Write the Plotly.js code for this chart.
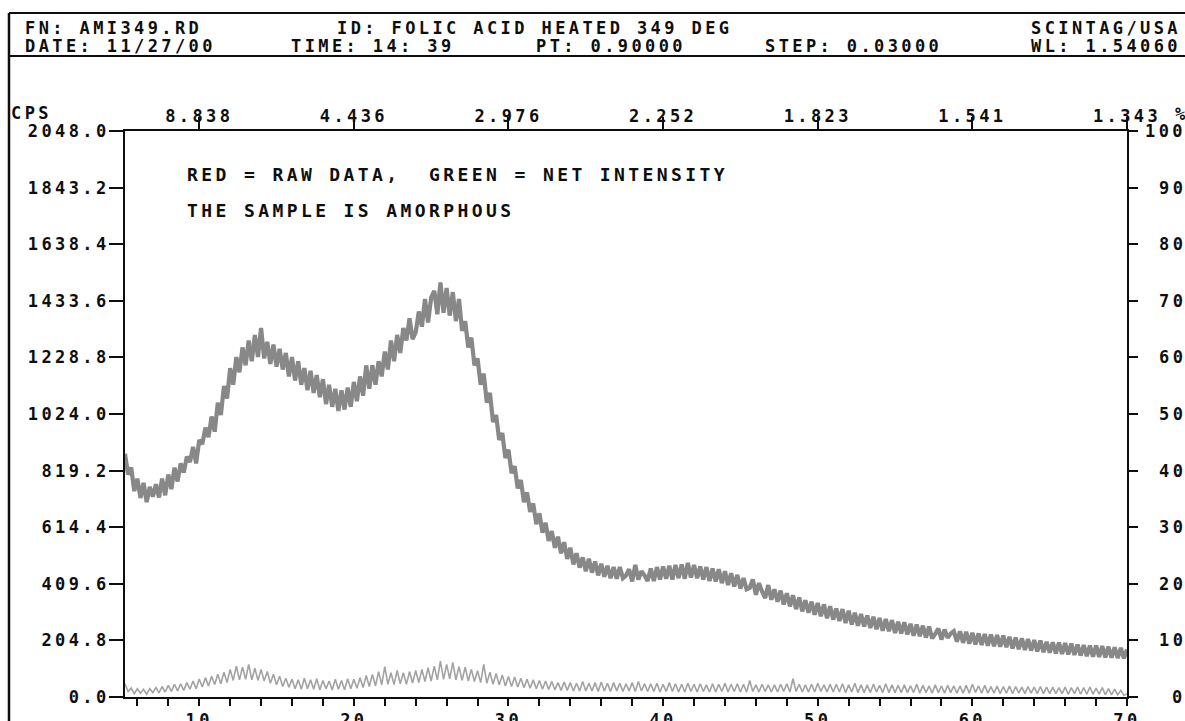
<!DOCTYPE html>
<html>
<head>
<meta charset="utf-8">
<script src="https://cdn.plot.ly/plotly-3.0.1.min.js"></script>
<style>
  html, body { margin: 0; padding: 0; background: #fff; }
  text { letter-spacing: 3.4px; }
</style>
</head>
<body>
<div id="chart" style="width:1185px;height:721px;"></div>
<script>
// ---- data ----
const startTwoTheta = 5.2;   // first 2-theta of the scan (deg)
const stepTwoTheta = 0.2;    // sampling used for the read-off values (deg)

// raw data (grey band), cps
const rawCps = [
  880, 805, 830, 745, 790, 720, 775, 705, 760, 725,
  770, 722, 790, 730, 805, 752, 830, 780, 845, 812,
  870, 850, 905, 845, 930, 915, 975, 940, 1015, 960,
  1065, 1020, 1125, 1080, 1190, 1130, 1230, 1175, 1265, 1200,
  1290, 1215, 1310, 1230, 1335, 1225, 1285, 1205, 1275, 1195,
  1260, 1185, 1245, 1160, 1230, 1145, 1215, 1130, 1190, 1110,
  1180, 1100, 1165, 1085, 1150, 1060, 1130, 1050, 1115, 1035,
  1110, 1040, 1120, 1050, 1140, 1070, 1160, 1090, 1200, 1115,
  1200, 1130, 1215, 1160, 1250, 1185, 1290, 1215, 1310, 1245,
  1335, 1290, 1370, 1295, 1320, 1395, 1340, 1440, 1355, 1445,
  1470, 1385, 1500, 1390, 1480, 1380, 1465, 1360, 1440, 1325,
  1360, 1265, 1300, 1200, 1225, 1130, 1170, 1065, 1100, 995,
  1020, 930, 955, 865, 895, 810, 835, 755, 785, 705,
  740, 670, 700, 625, 665, 595, 630, 565, 600, 540,
  580, 520, 560, 500, 540, 480, 520, 468, 505, 455,
  500, 450, 490, 440, 482, 435, 475, 430, 470, 428,
  470, 430, 440, 462, 418, 478, 425, 455, 440, 420,
  465, 420, 470, 425, 472, 428, 475, 425, 478, 430,
  480, 428, 485, 432, 478, 430, 472, 425, 470, 420,
  465, 418, 462, 412, 455, 405, 448, 400, 442, 392,
  430, 390, 395, 425, 370, 412, 382, 358, 405, 352,
  390, 345, 385, 335, 375, 328, 368, 318, 360, 310,
  350, 305, 345, 298, 340, 292, 335, 285, 328, 280,
  320, 275, 318, 268, 312, 262, 305, 258, 300, 255,
  295, 250, 290, 245, 286, 240, 282, 238, 278, 232,
  272, 230, 270, 226, 265, 222, 262, 220, 258, 215,
  255, 212, 228, 248, 208, 244, 214, 230, 238, 200,
  238, 196, 236, 193, 232, 190, 230, 188, 228, 186,
  226, 184, 224, 182, 222, 180, 218, 176, 215, 173,
  212, 170, 210, 168, 206, 165, 204, 162, 200, 160,
  198, 158, 197, 156, 195, 154, 193, 152, 190, 150,
  188, 148, 186, 146, 186, 145, 184, 143, 182, 142,
  180, 141, 178, 140, 172
];

// net intensity (lower grey trace), cps
const netCps = [
  48, 20, 32, 12, 30, 14, 28, 10, 30, 16,
  34, 15, 38, 18, 42, 20, 46, 22, 48, 24,
  52, 28, 58, 30, 65, 36, 70, 40, 75, 45,
  82, 48, 90, 52, 100, 60, 112, 62, 108, 64,
  118, 62, 104, 60, 100, 58, 92, 50, 82, 44,
  75, 38, 68, 35, 64, 30, 62, 28, 68, 30,
  62, 28, 66, 26, 60, 30, 58, 25, 64, 28,
  60, 26, 66, 30, 64, 32, 70, 34, 78, 38,
  82, 40, 92, 44, 110, 46, 88, 45, 96, 48,
  88, 46, 92, 50, 96, 52, 100, 56, 106, 58,
  112, 62, 130, 64, 118, 66, 125, 62, 110, 60,
  108, 58, 100, 56, 95, 52, 118, 50, 90, 46,
  85, 44, 80, 40, 74, 38, 72, 36, 68, 34,
  64, 32, 62, 30, 60, 28, 58, 27, 56, 26,
  52, 24, 54, 24, 52, 22, 50, 22, 56, 22,
  50, 22, 52, 20, 54, 22, 50, 20, 52, 22,
  50, 20, 48, 22, 52, 20, 56, 22, 48, 20,
  48, 20, 50, 18, 46, 20, 52, 20, 48, 18,
  46, 18, 50, 20, 46, 18, 48, 20, 44, 18,
  48, 18, 46, 20, 50, 18, 46, 20, 48, 18,
  46, 18, 60, 20, 44, 18, 46, 20, 44, 18,
  44, 18, 46, 20, 48, 18, 66, 20, 46, 18,
  44, 18, 46, 18, 50, 20, 44, 18, 46, 18,
  46, 18, 48, 16, 44, 18, 50, 16, 44, 16,
  44, 16, 46, 18, 42, 16, 48, 16, 44, 16,
  42, 16, 44, 16, 40, 16, 46, 14, 42, 16,
  40, 14, 44, 16, 40, 14, 42, 16, 40, 14,
  40, 14, 42, 14, 46, 16, 40, 14, 42, 14,
  38, 14, 40, 12, 38, 14, 40, 12, 38, 14,
  36, 12, 38, 14, 36, 12, 38, 12, 36, 12,
  36, 12, 34, 12, 36, 10, 34, 12, 36, 10,
  34, 10, 36, 10, 32, 10, 34, 8, 30, 8,
  28, 8, 24, 6, 12
];

// axes
const xRange = [5.2, 70];
const bottomTickVals = [6, 8, 10, 12, 14, 16, 18, 20, 22, 24, 26, 28, 30, 32, 34, 36, 38, 40,
                        42, 44, 46, 48, 50, 52, 54, 56, 58, 60, 62, 64, 66, 68, 70];
const bottomLabelVals = [10, 20, 30, 40, 50, 60, 70];
const topTickVals = [10, 20, 30, 40, 50, 60, 70];
const topTickLabels = ['8.838', '4.436', '2.976', '2.252', '1.823', '1.541', '1.343'];
const cpsTickLabels = ['0.0', '204.8', '409.6', '614.4', '819.2', '1024.0', '1228.8',
                       '1433.6', '1638.4', '1843.2', '2048.0'];
const pctTickVals = [0, 10, 20, 30, 40, 50, 60, 70, 80, 90, 100];

// header texts
const headerRow1 = ['FN: AMI349.RD', 'ID: FOLIC ACID HEATED 349 DEG', 'SCINTAG/USA'];
const headerRow2 = ['DATE: 11/27/00', 'TIME: 14: 39', 'PT: 0.90000', 'STEP: 0.03000', 'WL: 1.54060'];
const noteLines = ['RED = RAW DATA,  GREEN = NET INTENSITY', 'THE SAMPLE IS AMORPHOUS'];

// ---- build ----
const twoTheta = rawCps.map((_, i) => +(startTwoTheta + i * stepTwoTheta).toFixed(2));
const ink = '#0e0e0e';

const traces = [
  { x: twoTheta, y: rawCps, type: 'scatter', mode: 'lines',
    line: { color: '#888888', width: 4.2 }, hoverinfo: 'skip', name: 'raw' },
  { x: twoTheta, y: netCps, type: 'scatter', mode: 'lines',
    line: { color: '#a2a2a2', width: 1.6 }, hoverinfo: 'skip', name: 'net' },
  { x: [], y: [], xaxis: 'x2', yaxis: 'y2', type: 'scatter', mode: 'lines', hoverinfo: 'skip' }
];

const L = 125, W = 1002, B = 697, H = 566;
const px = v => (v - L) / W;
const py = v => (B - v) / H;

const ann = [];
function txt(text, x, y, xanchor, size) {
  const a = { text, x: px(x), y: py(y), xref: 'paper', yref: 'paper',
              xanchor: xanchor || 'left', yanchor: 'middle', showarrow: false };
  if (size) a.font = { size: size };
  ann.push(a);
}
txt(headerRow1[0], 23, 28);
txt(headerRow1[1], 335, 28);
txt(headerRow1[2], 1183, 28, 'right');
txt(headerRow2[0], 23, 46);
txt(headerRow2[1], 289, 46);
txt(headerRow2[2], 534, 46);
txt(headerRow2[3], 763, 46);
txt(headerRow2[4], 1183, 46, 'right');
txt(noteLines[0], 185, 174, 'left', 18);
txt(noteLines[1], 185, 210, 'left', 18);
txt('CPS', 9, 113);
txt('%', 1173, 114);
pctTickVals.forEach(v => {
  ann.push({ text: String(v), x: px(1188), y: v, xref: 'paper', yref: 'y2',
             xanchor: 'right', yanchor: 'middle', showarrow: false });
});

const shapes = [
  { type: 'line', xref: 'paper', yref: 'paper', x0: px(9), x1: px(1190), y0: py(13), y1: py(13),
    line: { color: ink, width: 2 } },
  { type: 'line', xref: 'paper', yref: 'paper', x0: px(9), x1: px(1190), y0: py(56), y1: py(56),
    line: { color: ink, width: 2 } },
  { type: 'line', xref: 'paper', yref: 'paper', x0: px(9), x1: px(9), y0: py(13), y1: py(725),
    line: { color: ink, width: 2.5 } }
];

const axisCommon = { showline: true, linecolor: ink, linewidth: 2, showgrid: false, zeroline: false,
                     ticks: 'outside', tickcolor: ink, tickwidth: 2, fixedrange: true };

const layout = {
  width: 1185, height: 721,
  margin: { l: L, r: 1185 - L - W, t: B - H, b: 721 - B, pad: 0 },
  paper_bgcolor: '#ffffff', plot_bgcolor: '#ffffff',
  showlegend: false,
  font: { family: 'DejaVu Sans Mono', size: 17, color: ink, weight: 700 },
  xaxis: Object.assign({}, axisCommon, {
    range: xRange, tickmode: 'array', tickvals: bottomTickVals,
    ticktext: bottomTickVals.map(v => bottomLabelVals.includes(v) ? String(v) : ''),
    ticklen: 7
  }),
  xaxis2: Object.assign({}, axisCommon, {
    overlaying: 'x', side: 'top', anchor: 'y', range: xRange, tickmode: 'array',
    tickvals: topTickVals, ticktext: topTickLabels, ticklen: 12, ticklabelstandoff: -12
  }),
  yaxis: Object.assign({}, axisCommon, {
    range: [0, 2048], tickmode: 'array', tickvals: cpsTickLabels.map(Number),
    ticktext: cpsTickLabels, ticklen: 14, ticklabelstandoff: -4
  }),
  yaxis2: Object.assign({}, axisCommon, {
    overlaying: 'y', side: 'right', anchor: 'x', range: [0, 100], tickmode: 'array',
    tickvals: pctTickVals, showticklabels: false, ticklen: 9
  }),
  annotations: ann,
  shapes: shapes
};

Plotly.newPlot('chart', traces, layout, { displayModeBar: false, staticPlot: true });
</script>
</body>
</html>
